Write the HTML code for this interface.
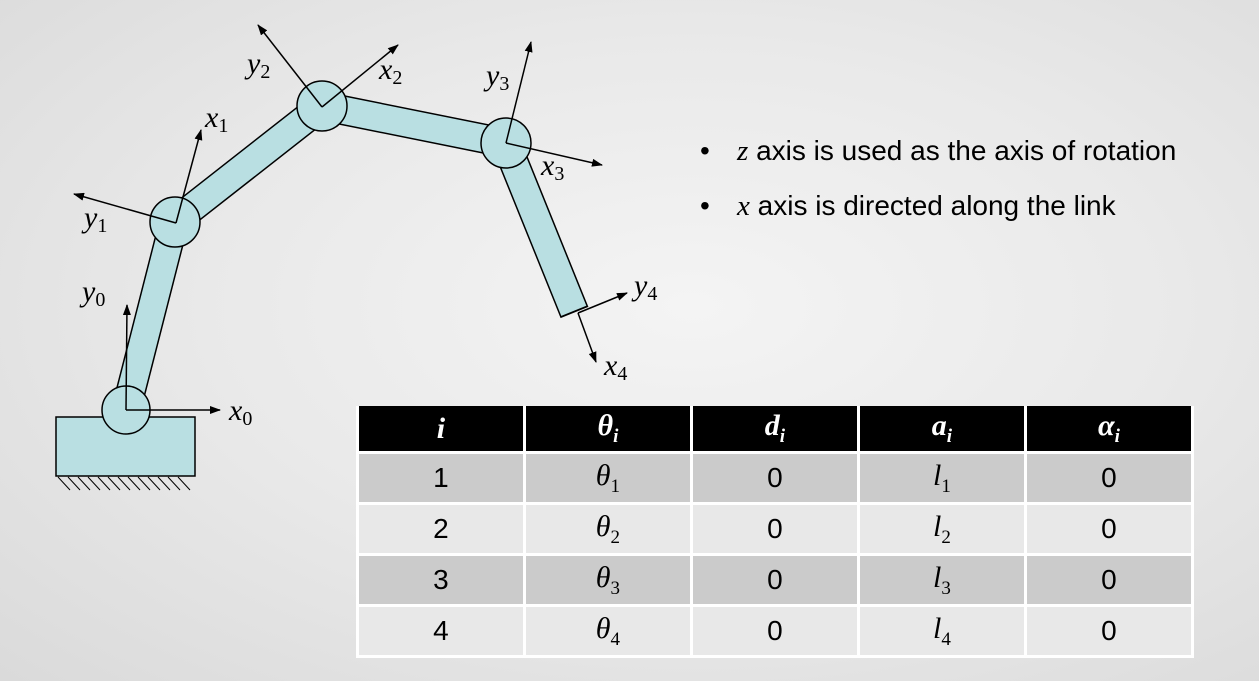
<!DOCTYPE html>
<html><head><meta charset="utf-8"><style>
body{margin:0;width:1259px;height:681px;overflow:hidden;background:radial-gradient(ellipse at 55% 45%,#f4f4f4 0%,#e9e9e9 50%,#dadada 100%);position:relative;font-family:"Liberation Sans",sans-serif}
svg{position:absolute;left:0;top:0}
.m{font-family:"Liberation Serif",serif;font-style:italic}
.b{position:absolute;font-size:28px;color:#000}
table{position:absolute;left:356px;top:406px;border-collapse:collapse;width:838px}
td{width:167px;text-align:center;border:3px solid #fff;padding:0;font-size:28px;height:48px;line-height:1}
tr.h td{background:#000;color:#fff;font-family:"Liberation Serif",serif;font-style:italic;font-weight:bold;font-size:30px;height:45px;border-top:none}
tr.a td{background:#cbcbcb}
tr.c td{background:#e8e8e8}
.s{font-family:"Liberation Serif",serif;font-style:italic;font-size:30px}
sub{font-size:19px;font-style:normal}
</style></head><body>
<svg width="1259" height="681" viewBox="0 0 1259 681">
<defs><marker id="ar" markerWidth="11" markerHeight="8" refX="10" refY="4" orient="auto" markerUnits="userSpaceOnUse"><path d="M0,0 L11,4 L0,8 z" fill="#000"/></marker></defs>
<g stroke="#000" stroke-width="1" fill="none">
<path d="M58,477 l12,13 M68,477 l12,13 M78,477 l12,13 M88,477 l12,13 M98,477 l12,13 M108,477 l12,13 M118,477 l12,13 M128,477 l12,13 M138,477 l12,13 M148,477 l12,13 M158,477 l12,13 M168,477 l12,13 M178,477 l12,13"/>
</g>
<rect x="56" y="417" width="139" height="59" fill="#b9dfe2" stroke="#000" stroke-width="1.5"/>
<g stroke-linecap="butt">
<line x1="126" y1="410" x2="174" y2="222" stroke="#000" stroke-width="30"/>
<line x1="126" y1="410" x2="174" y2="222" stroke="#b9dfe2" stroke-width="27"/>
<line x1="174" y1="222" x2="322" y2="106" stroke="#000" stroke-width="30"/>
<line x1="174" y1="222" x2="322" y2="106" stroke="#b9dfe2" stroke-width="27"/>
<line x1="322" y1="106" x2="506" y2="143" stroke="#000" stroke-width="30"/>
<line x1="322" y1="106" x2="506" y2="143" stroke="#b9dfe2" stroke-width="27"/>
<line x1="506" y1="143" x2="574.5" y2="312.5" stroke="#000" stroke-width="30"/>
<line x1="506" y1="143" x2="573.8" y2="310.8" stroke="#b9dfe2" stroke-width="27"/>
</g>
<g fill="#b9dfe2" stroke="#000" stroke-width="1.5">
<circle cx="126" cy="410" r="24"/>
<circle cx="175" cy="222" r="25"/>
<circle cx="322" cy="106" r="25"/>
<circle cx="506" cy="143" r="25"/>
</g>
<g stroke="#000" stroke-width="1.5" marker-end="url(#ar)">
<line x1="126" y1="410" x2="220" y2="410"/>
<line x1="126" y1="410" x2="127" y2="305"/>
<line x1="176" y1="223" x2="201" y2="130"/>
<line x1="176" y1="223" x2="74" y2="194"/>
<line x1="322" y1="107" x2="258" y2="25"/>
<line x1="322" y1="107" x2="398" y2="45"/>
<line x1="506" y1="143" x2="531" y2="42"/>
<line x1="506" y1="143" x2="602" y2="165"/>
<line x1="578" y1="313" x2="627" y2="293"/>
<line x1="578" y1="313" x2="596" y2="362"/>
</g>
<g font-family="Liberation Serif,serif" font-style="italic" font-size="30" fill="#000">
<text x="229" y="420">x<tspan font-size="20" font-style="normal" dy="5">0</tspan></text>
<text x="82" y="301">y<tspan font-size="20" font-style="normal" dy="5">0</tspan></text>
<text x="205" y="127">x<tspan font-size="20" font-style="normal" dy="5">1</tspan></text>
<text x="84" y="227">y<tspan font-size="20" font-style="normal" dy="5">1</tspan></text>
<text x="247" y="73">y<tspan font-size="20" font-style="normal" dy="5">2</tspan></text>
<text x="379" y="79">x<tspan font-size="20" font-style="normal" dy="5">2</tspan></text>
<text x="486" y="85">y<tspan font-size="20" font-style="normal" dy="5">3</tspan></text>
<text x="541" y="175">x<tspan font-size="20" font-style="normal" dy="5">3</tspan></text>
<text x="634" y="295">y<tspan font-size="20" font-style="normal" dy="5">4</tspan></text>
<text x="604" y="375">x<tspan font-size="20" font-style="normal" dy="5">4</tspan></text>
</g>
</svg>
<div class="b" style="left:700px;top:135px">•</div>
<div class="b" style="left:737px;top:135px"><span class="m" style="font-size:29px">z</span> axis is used as the axis of rotation</div>
<div class="b" style="left:700px;top:190px">•</div>
<div class="b" style="left:737px;top:190px"><span class="m" style="font-size:29px">x</span> axis is directed along the link</div>
<table>
<tr class="h"><td>i</td><td>θ<sub style="font-style:italic">i</sub></td><td>d<sub style="font-style:italic">i</sub></td><td>a<sub style="font-style:italic">i</sub></td><td>α<sub style="font-style:italic">i</sub></td></tr>
<tr class="a"><td>1</td><td class="s">θ<sub>1</sub></td><td>0</td><td class="s">l<sub>1</sub></td><td>0</td></tr>
<tr class="c"><td>2</td><td class="s">θ<sub>2</sub></td><td>0</td><td class="s">l<sub>2</sub></td><td>0</td></tr>
<tr class="a"><td>3</td><td class="s">θ<sub>3</sub></td><td>0</td><td class="s">l<sub>3</sub></td><td>0</td></tr>
<tr class="c"><td>4</td><td class="s">θ<sub>4</sub></td><td>0</td><td class="s">l<sub>4</sub></td><td>0</td></tr>
</table>
</body></html>
